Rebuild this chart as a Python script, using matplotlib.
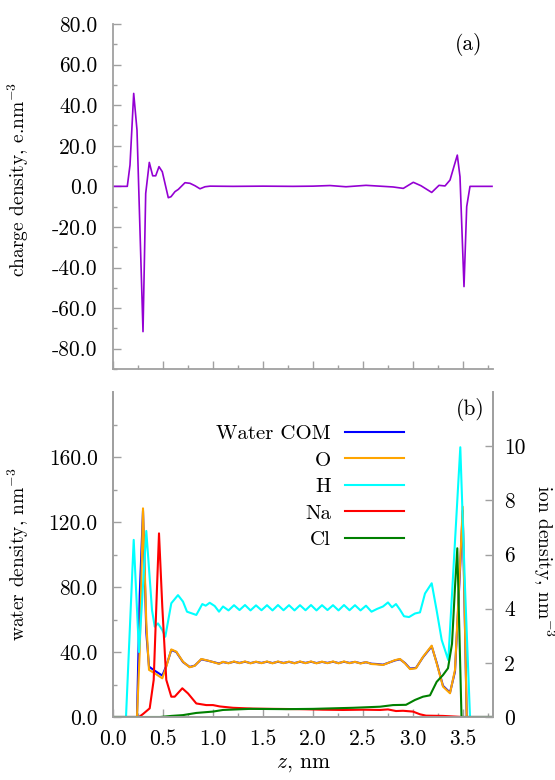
import matplotlib
matplotlib.use("Agg")
import matplotlib.pyplot as plt
from matplotlib.ticker import MultipleLocator, FixedLocator, FormatStrFormatter

plt.rcParams['font.family'] = 'serif'
plt.rcParams['font.serif'] = ['cmr10']
plt.rcParams['mathtext.fontset'] = 'cm'
plt.rcParams['axes.unicode_minus'] = False
plt.rcParams['axes.formatter.use_mathtext'] = True
plt.rcParams['font.size'] = 15.5

# (a) charge density profile
z_q = [0.0, 0.143, 0.17, 0.207, 0.24, 0.30, 0.327, 0.363, 0.397, 0.427,
       0.46, 0.493, 0.553, 0.58, 0.62, 0.653, 0.72, 0.77, 0.82, 0.87,
       0.92, 0.97, 1.2, 1.5, 1.8, 2.0, 2.17, 2.33, 2.53, 2.7,
       2.80, 2.903, 3.003, 3.08, 3.187, 3.26, 3.32, 3.37, 3.443, 3.47,
       3.51, 3.537, 3.57, 3.79]
charge = [0, 0, 10.5, 45.8, 27.7, -71.6, -3.5, 11.8, 5.2, 5.2,
          9.7, 7.2, -5.6, -5.1, -2.6, -1.5, 1.8, 1.5, 0.3, -1.2,
          -0.2, 0.1, 0.0, 0.1, 0.0, 0.1, 0.4, -0.2, 0.5, 0.0,
          -0.3, -1.0, 2.0, 0.3, -3.0, 0.5, 0.2, 3.1, 15.4, 4.7,
          -49.4, -10, 0, 0]

# (b) water densities (left axis)
z_h = [0.0, 0.13, 0.207, 0.26, 0.333, 0.39, 0.417, 0.45, 0.493, 0.523,
       0.583, 0.65, 0.70, 0.74, 0.833, 0.893, 0.927, 0.967, 1.017, 1.06,
       1.10, 1.155, 1.21, 1.265, 1.32, 1.375, 1.43, 1.485, 1.54, 1.595,
       1.65, 1.705, 1.76, 1.815, 1.87, 1.925, 1.98, 2.035, 2.09, 2.145,
       2.20, 2.255, 2.31, 2.365, 2.42, 2.475, 2.53, 2.585, 2.64, 2.70,
       2.75, 2.79, 2.83, 2.87, 2.91, 2.96, 3.02, 3.07, 3.12, 3.187,
       3.237, 3.287, 3.353, 3.473, 3.52, 3.57, 3.79]
h_dens = [0, 0, 109, 40, 114.5, 65.8, 55.6, 57.6, 53.5, 49.4,
          70, 75, 71, 64.8, 62.8, 69.5, 68.5, 70.3, 68.3, 64.8,
          68, 65.6, 68.8, 65.8, 68.9, 65.6, 68.7, 65.7, 68.8, 65.6,
          68.9, 65.7, 68.8, 65.6, 68.8, 65.7, 68.9, 65.6, 68.8, 65.8,
          68.8, 65.6, 68.9, 65.7, 68.8, 65.6, 68.5, 64.8, 66.5, 68.0,
          70.5, 67.5, 69.5, 66.0, 62.0, 61.5, 63.7, 64.4, 76, 82.3,
          65.4, 47.4, 35, 166, 80, 0, 0]

z_o = [0.0, 0.24, 0.267, 0.30, 0.333, 0.36, 0.417, 0.493, 0.533, 0.583,
       0.633, 0.70, 0.767, 0.817, 0.883, 0.95, 1.017, 1.06, 1.10, 1.155,
       1.21, 1.265, 1.32, 1.375, 1.43, 1.485, 1.54, 1.595, 1.65, 1.705,
       1.76, 1.815, 1.87, 1.925, 1.98, 2.035, 2.09, 2.145, 2.20, 2.255,
       2.31, 2.365, 2.42, 2.475, 2.53, 2.585, 2.64, 2.70, 2.76, 2.82,
       2.87, 2.92, 2.97, 3.03, 3.10, 3.187, 3.237, 3.30, 3.37, 3.42,
       3.47, 3.497, 3.537, 3.79]
o_dens = [0, 0, 40, 128.4, 57.7, 29, 26.9, 23.8, 31, 41.6,
          40.2, 34, 30.6, 31.5, 35.7, 34.7, 33.5, 32.7, 34.0, 33.0,
          34.2, 33.1, 34.2, 33.0, 34.1, 33.1, 34.2, 33.0, 34.2, 33.1,
          34.1, 33.0, 34.2, 33.1, 34.2, 33.0, 34.1, 33.1, 34.2, 33.0,
          34.2, 33.1, 34.0, 32.9, 33.8, 32.6, 32.4, 32.0, 33.5, 35.0,
          35.7, 33.0, 29.5, 30.0, 37.0, 43.9, 33.0, 18.7, 14.6, 29.0,
          92.5, 129.4, 0, 0]
com_dens = [0, 0, 75, 127, 52, 31, 28.5, 25.5, 31.5, 41.2,
            40.0, 33.8, 30.8, 31.6, 35.5, 34.6, 33.6, 32.9, 33.8, 33.2,
            34.0, 33.3, 34.0, 33.2, 33.9, 33.3, 34.0, 33.2, 34.0, 33.3,
            33.9, 33.2, 34.0, 33.3, 34.0, 33.2, 33.9, 33.3, 34.0, 33.2,
            34.0, 33.3, 33.9, 33.1, 33.7, 32.8, 32.6, 32.2, 33.5, 34.8,
            35.5, 33.2, 29.8, 30.2, 36.8, 43.5, 33.4, 19.2, 15.0, 28.0,
            90.0, 127.0, 0, 0]

# (b) ion densities (right axis)
z_na = [0.0, 0.26, 0.30, 0.367, 0.407, 0.433, 0.46, 0.493, 0.533, 0.583,
        0.617, 0.693, 0.75, 0.833, 0.933, 1.0, 1.067, 1.2, 1.4, 1.6,
        1.87, 2.1, 2.3, 2.5, 2.67, 2.75, 2.83, 2.9, 3.0, 3.07,
        3.13, 3.3, 3.4, 3.5, 3.79]
na_dens = [0, 0, 0.11, 0.32, 1.37, 4.07, 6.78, 4.07, 1.37, 0.75,
           0.75, 1.06, 0.87, 0.5, 0.44, 0.44, 0.39, 0.34, 0.31, 0.30,
           0.29, 0.27, 0.26, 0.27, 0.26, 0.28, 0.22, 0.23, 0.2, 0.1,
           0.05, 0.04, 0.02, 0.0, 0]
z_cl = [0.0, 0.47, 0.583, 0.70, 0.833, 1.0, 1.1, 1.37, 1.73, 2.0,
        2.4, 2.67, 2.8, 2.93, 3.02, 3.10, 3.17, 3.237, 3.30, 3.35,
        3.39, 3.42, 3.443, 3.485, 3.79]
cl_dens = [0, 0, 0.04, 0.07, 0.15, 0.2, 0.26, 0.3, 0.29, 0.3,
           0.34, 0.38, 0.44, 0.45, 0.63, 0.75, 0.8, 1.3, 1.55, 1.8,
           2.7, 4.8, 6.23, 0, 0]

labels = ["Water COM", "O", "H", "Na", "Cl"]
colors = ["#0000ff", "#ffa500", "#00ffff", "#ff0000", "#008000"]
grey = "#a0a0a0"

fig = plt.figure(figsize=(5.55, 7.8), dpi=100)
ax_a = fig.add_axes([113 / 555, 1 - 369 / 780, 380 / 555, 345 / 780])
ax_b = fig.add_axes([113 / 555, 1 - 717 / 780, 380 / 555, 325 / 780])
ax_i = ax_b.twinx()


def style(ax, sides):
    for s in ["left", "right", "top", "bottom"]:
        ax.spines[s].set_visible(s in sides)
        ax.spines[s].set_color(grey)
        ax.spines[s].set_linewidth(1.3)
    ax.tick_params(which="both", direction="in", color=grey, width=1.0)
    ax.tick_params(which="major", length=6)
    ax.tick_params(which="minor", length=3)


# top panel
ax_a.plot(z_q, charge, color="#9400d3", lw=1.2)
ax_a.set_xlim(0, 3.8)
ax_a.set_ylim(-90, 80)
style(ax_a, ["left", "bottom"])
ax_a.xaxis.set_major_locator(MultipleLocator(0.5))
ax_a.xaxis.set_minor_locator(MultipleLocator(0.25))
ax_a.yaxis.set_major_locator(MultipleLocator(20))
ax_a.yaxis.set_minor_locator(MultipleLocator(10))
ax_a.yaxis.set_major_formatter(FormatStrFormatter("%.1f"))
ax_a.tick_params(axis="x", labelbottom=False)
ax_a.tick_params(axis="y", pad=11)
ax_a.set_ylabel("charge density, e.nm$^{-3}$", fontsize=14)
ax_a.yaxis.set_label_coords(-0.215, 0.55)
ax_a.text(0.937, 0.942, "(a)", transform=ax_a.transAxes, ha="center", va="center")

# bottom panel
lines = []
lines += ax_b.plot(z_o, com_dens, color=colors[0], lw=1.5)
lines += ax_b.plot(z_o, o_dens, color=colors[1], lw=1.5)
lines += ax_b.plot(z_h, h_dens, color=colors[2], lw=1.5)
lines += ax_i.plot(z_na, na_dens, color=colors[3], lw=1.5)
lines += ax_i.plot(z_cl, cl_dens, color=colors[4], lw=1.5)

ax_b.set_xlim(0, 3.8)
ax_b.set_ylim(0, 200)
ax_i.set_ylim(0, 12)
style(ax_b, ["left", "bottom", "right"])
style(ax_i, ["left", "bottom", "right"])
ax_b.xaxis.set_major_locator(MultipleLocator(0.5))
ax_b.xaxis.set_minor_locator(MultipleLocator(0.25))
ax_b.xaxis.set_major_formatter(FormatStrFormatter("%.1f"))
ax_b.yaxis.set_major_locator(FixedLocator([0, 40, 80, 120, 160]))
ax_b.yaxis.set_minor_locator(FixedLocator([20, 60, 100, 140, 180]))
ax_b.yaxis.set_major_formatter(FormatStrFormatter("%.1f"))
ax_b.tick_params(axis="y", pad=11)
ax_b.tick_params(axis="x", pad=9)
ax_i.yaxis.set_major_locator(FixedLocator([0, 2, 4, 6, 8, 10]))
ax_i.yaxis.set_major_formatter(FormatStrFormatter("%d"))
ax_i.tick_params(axis="y", pad=8)

ax_b.set_ylabel("water density, nm$^{-3}$", fontsize=14)
ax_b.yaxis.set_label_coords(-0.215, 0.5)
ax_i.set_ylabel("ion density, nm$^{-3}$", fontsize=14, rotation=270, va="bottom")
ax_i.yaxis.set_label_coords(1.10, 0.48)
ax_b.set_xlabel("$z$, nm", labelpad=4)
ax_b.text(0.94, 0.945, "(b)", transform=ax_b.transAxes, ha="center", va="center")

ax_i.legend(lines, labels, loc="upper right", bbox_to_anchor=(0.766, 0.90),
            frameon=False, markerfirst=False, handlelength=2.85, fontsize=15,
            handletextpad=0.65, labelspacing=0.38, borderaxespad=0, borderpad=0)

fig.savefig("out.png", dpi=100)
